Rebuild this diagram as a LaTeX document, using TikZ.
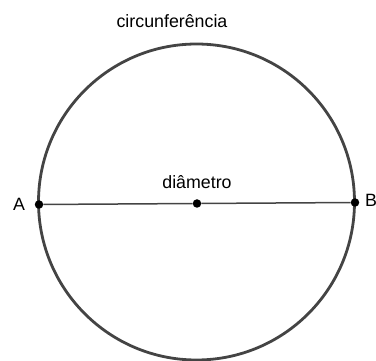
\documentclass[tikz,border=0pt]{standalone}
\usepackage{fontspec}
\setmainfont{Liberation Sans}
\usepackage{xcolor}
\usetikzlibrary{math}
\definecolor{mygray}{RGB}{68,68,68}

\begin{document}
\begin{tikzpicture}[x=1pt,y=-1pt,
  ponto/.style={circle, fill=black, inner sep=0pt, minimum size=8.5pt},
  rotulo/.style={font=\fontsize{17.8}{20}\selectfont}]
\tikzmath{
\R=158;
\cx=196.5;
\cy=202;
}
\useasboundingbox (0,0) rectangle (376,361);

\coordinate (O) at (\cx,\cy);
\draw[color=mygray, line width=2.8pt] (O) circle (\R);

\node[ponto] (A) at (39,204.5) {};
\node[ponto] (B) at (355,202.5) {};
\node[ponto] (M) at (197,203.5) {};
\draw[color=mygray, line width=1.5pt] (A) -- (M) -- (B);

\node[rotulo] (lA) at (19,204) {A};
\node[rotulo] (lB) at (371,200) {B};
\node[rotulo] (ldiam) at (197,182) {diâmetro};
\node[rotulo] (lcirc) at (172,21) {circunferência};
\end{tikzpicture}
\end{document}
